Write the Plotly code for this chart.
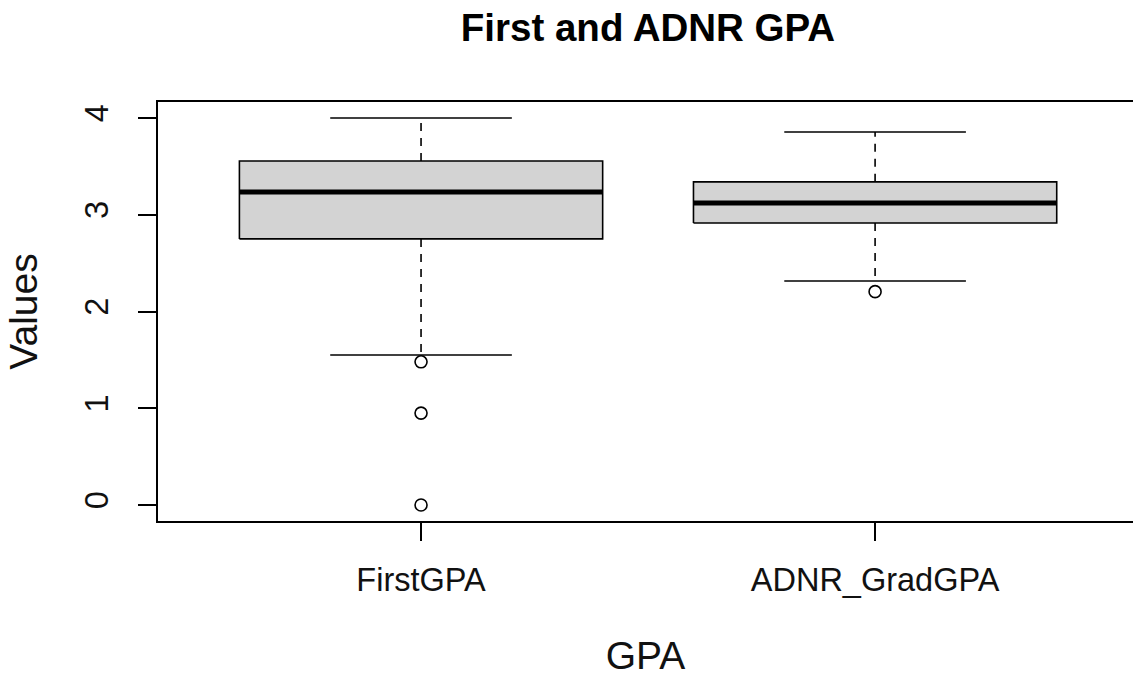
import plotly.graph_objects as go

categories = ["FirstGPA", "ADNR_GradGPA"]
lower_whisker = [1.55, 2.315]
q1 = [2.75, 2.915]
median = [3.235, 3.12]
q3 = [3.556, 3.34]
upper_whisker = [4.0, 3.855]
outliers = [[1.48, 0.95, 0.0], [2.205]]
y_ticks = [0, 1, 2, 3, 4]

FONT = "Liberation Sans, Arial, sans-serif"
HALF_BOX = 0.4
HALF_CAP = 0.2
fig = go.Figure()

for i, name in enumerate(categories):
    xc = i + 1
    # dashed whiskers
    for a, b in [(q3[i], upper_whisker[i]), (q1[i], lower_whisker[i])]:
        fig.add_trace(go.Scatter(x=[xc, xc], y=[a, b], mode="lines",
                                 line=dict(color="black", width=1.6, dash="8px,7px"),
                                 showlegend=False, hoverinfo="skip"))
    # caps
    for v in (upper_whisker[i], lower_whisker[i]):
        fig.add_trace(go.Scatter(x=[xc - HALF_CAP, xc + HALF_CAP], y=[v, v], mode="lines",
                                 line=dict(color="black", width=1.6),
                                 showlegend=False, hoverinfo="skip"))
    # box
    fig.add_trace(go.Scatter(
        x=[xc - HALF_BOX, xc + HALF_BOX, xc + HALF_BOX, xc - HALF_BOX, xc - HALF_BOX],
        y=[q1[i], q1[i], q3[i], q3[i], q1[i]],
        mode="lines", fill="toself", fillcolor="#D3D3D3",
        line=dict(color="black", width=1.6), showlegend=False, name=name))
    # median
    fig.add_trace(go.Scatter(x=[xc - HALF_BOX, xc + HALF_BOX], y=[median[i], median[i]],
                             mode="lines", line=dict(color="black", width=5),
                             showlegend=False, hoverinfo="skip"))
    # outliers
    fig.add_trace(go.Scatter(x=[xc] * len(outliers[i]), y=outliers[i], mode="markers",
                             marker=dict(symbol="circle-open", size=12,
                                         color="black", line=dict(width=1.6)),
                             showlegend=False))

fig.update_layout(
    width=1133, height=677,
    margin=dict(l=158, r=0, t=102, b=156),
    paper_bgcolor="white", plot_bgcolor="white",
    font=dict(family=FONT, size=32.5, color="#111"),
    title=dict(text="<b>First and ADNR GPA</b>", font=dict(size=38.5, color="black"),
               xref="container", x=648 / 1133, xanchor="center",
               yref="container", y=1 - 28 / 677, yanchor="middle"),
    xaxis=dict(range=[0.4207, 2.568], tickmode="array", tickvals=[1, 2],
               ticktext=categories, showgrid=False, zeroline=False,
               showline=True, linecolor="black", linewidth=1.6, mirror=True,
               ticks="outside", ticklen=18, tickwidth=1.6, tickcolor="black",
               ticklabelstandoff=11,
               title=dict(text="GPA", standoff=50)),
    yaxis=dict(range=[-0.165, 4.165], tickmode="array", tickvals=y_ticks,
               ticktext=[str(v) for v in y_ticks], tickangle=-90,
               showgrid=False, zeroline=False,
               showline=True, linecolor="black", linewidth=1.6,
               ticks="outside", ticklen=18, tickwidth=1.6, tickcolor="black",
               ticklabelstandoff=17,
               title=dict(text="Values", standoff=30)),
)

fig.write_html("out.html")
